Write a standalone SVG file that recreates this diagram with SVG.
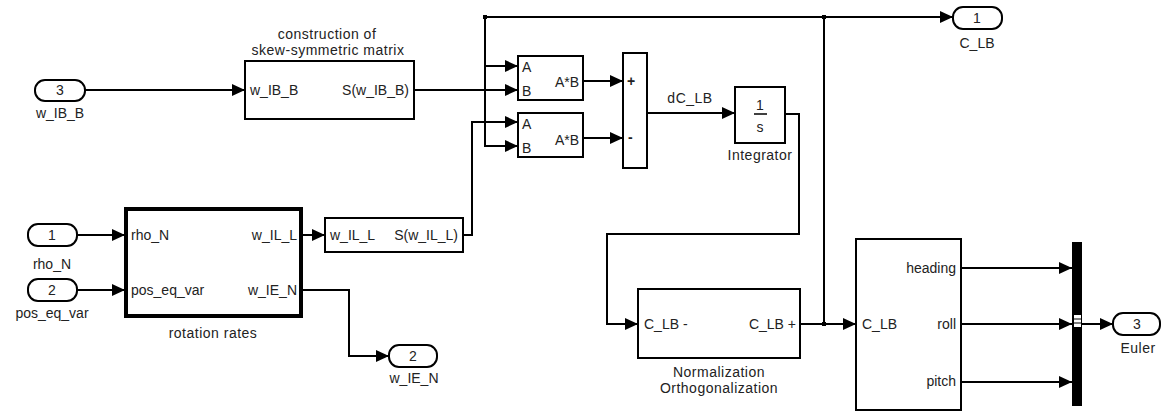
<svg xmlns="http://www.w3.org/2000/svg" width="1162" height="412" viewBox="0 0 1162 412">
<style>
text{font-family:"Liberation Sans",Arial,sans-serif;font-size:14px;fill:#222}
.t{letter-spacing:0.5px}
.m{text-anchor:middle}
.e{text-anchor:end}
.blk{fill:#fff;stroke:#000;stroke-width:2}
.port{fill:#fff;stroke:#000;stroke-width:2}
.w{fill:none;stroke:#000;stroke-width:2}
</style>
<defs>
<marker id="ar" markerUnits="userSpaceOnUse" markerWidth="13" markerHeight="12" refX="13" refY="6" orient="auto">
<path d="M0,0 L13,6 L0,12 z" fill="#000"/>
</marker>
</defs>
<rect width="1162" height="412" fill="#fff"/>

<g id="connectors">
<path class="w" d="M85 90 H245" marker-end="url(#ar)"/>
<path class="w" d="M414 90 H518" marker-end="url(#ar)"/>
<path class="w" d="M824 17 H485 V146 H518" marker-end="url(#ar)"/>
<path class="w" d="M485 66 H518" marker-end="url(#ar)"/>
<path class="w" d="M824 324 V17 H953" marker-end="url(#ar)"/>
<path class="w" d="M800 324 H856" marker-end="url(#ar)"/>
<path class="w" d="M463 235 H472 V122 H518" marker-end="url(#ar)"/>
<path class="w" d="M583 81 H623" marker-end="url(#ar)"/>
<path class="w" d="M583 138 H623" marker-end="url(#ar)"/>
<path class="w" d="M647 113 H735" marker-end="url(#ar)"/>
<path class="w" d="M785 114 H799 V234 H607 V324 H638" marker-end="url(#ar)"/>
<path class="w" d="M302 235 H325" marker-end="url(#ar)"/>
<path class="w" d="M302 290 H349 V356 H389" marker-end="url(#ar)"/>
<path class="w" d="M77 235 H125" marker-end="url(#ar)"/>
<path class="w" d="M77 290 H125" marker-end="url(#ar)"/>
<path class="w" d="M961 268 H1072" marker-end="url(#ar)"/>
<path class="w" d="M961 324 H1072" marker-end="url(#ar)"/>
<path class="w" d="M961 382 H1072" marker-end="url(#ar)"/>
<path class="w" d="M1082 324 H1113" marker-end="url(#ar)"/>
<rect x="483" y="15" width="4" height="4" fill="#000"/>
<rect x="822" y="15" width="4" height="4" fill="#000"/>
<rect x="822" y="322" width="4" height="4" fill="#000"/>
</g>

<g id="in_w_IB_B">
<rect class="port" x="35" y="80" width="50" height="21" rx="10"/>
<text class="m" x="60" y="95">3</text>
<text class="m" x="60" y="118">w_IB_B</text>
</g>

<g id="in_rho_N">
<rect class="port" x="28" y="224" width="49" height="22" rx="10"/>
<text class="m" x="52" y="240">1</text>
<text class="m" x="52" y="269">rho_N</text>
</g>

<g id="in_pos_eq_var">
<rect class="port" x="28" y="279" width="49" height="22" rx="10"/>
<text class="m" x="52" y="295">2</text>
<text class="m" x="52" y="318">pos_eq_var</text>
</g>

<g id="skew1">
<rect class="blk" x="245" y="61" width="169" height="58"/>
<text x="250" y="95">w_IB_B</text>
<text class="e" x="409" y="95">S(w_IB_B)</text>
<text class="m t" x="327" y="39">construction of</text>
<text class="m t" x="328" y="55">skew-symmetric matrix</text>
</g>

<g id="rotation_rates">
<rect x="126" y="209" width="175" height="107" fill="#fff" stroke="#000" stroke-width="4"/>
<text x="131" y="240">rho_N</text>
<text x="131" y="295">pos_eq_var</text>
<text class="e" x="297" y="240">w_IL_L</text>
<text class="e" x="297" y="295">w_IE_N</text>
<text class="m t" x="213" y="338">rotation rates</text>
</g>

<g id="skew2">
<rect class="blk" x="325" y="218" width="138" height="34"/>
<text x="330" y="240">w_IL_L</text>
<text class="e" x="458" y="240">S(w_IL_L)</text>
</g>

<g id="product1">
<rect class="blk" x="518" y="56" width="65" height="44"/>
<text x="522" y="72">A</text>
<text x="522" y="96">B</text>
<text class="e" x="579" y="87">A*B</text>
</g>

<g id="product2">
<rect class="blk" x="518" y="113" width="65" height="44"/>
<text x="522" y="129">A</text>
<text x="522" y="153">B</text>
<text class="e" x="579" y="145">A*B</text>
</g>

<g id="sum">
<rect class="blk" x="623" y="53" width="24" height="115"/>
<text x="627" y="86" style="font-weight:bold">+</text>
<text x="628" y="142" style="font-weight:bold">-</text>
</g>

<text class="m t" x="690" y="103">dC_LB</text>

<g id="integrator">
<rect class="blk" x="735" y="87" width="50" height="56"/>
<text class="m" x="760" y="110">1</text>
<line x1="754" y1="114" x2="767" y2="114" stroke="#000" stroke-width="1.5"/>
<text class="m" x="760" y="132">s</text>
<text class="m t" x="760" y="160">Integrator</text>
</g>

<g id="out_C_LB">
<rect class="port" x="953" y="7" width="49" height="22" rx="10"/>
<text class="m" x="977" y="23">1</text>
<text class="m" x="977" y="48">C_LB</text>
</g>

<g id="out_w_IE_N">
<rect class="port" x="389" y="345" width="48" height="22" rx="10"/>
<text class="m" x="413" y="361">2</text>
<text class="m" x="414" y="383">w_IE_N</text>
</g>

<g id="normalization">
<rect class="blk" x="638" y="289" width="162" height="69"/>
<text x="644" y="329">C_LB -</text>
<text class="e" x="796" y="329">C_LB +</text>
<text class="m t" x="719" y="377">Normalization</text>
<text class="m t" x="719" y="393">Orthogonalization</text>
</g>

<g id="euler_block">
<rect class="blk" x="856" y="239" width="105" height="171"/>
<text x="862" y="329">C_LB</text>
<text class="e" x="956" y="273">heading</text>
<text class="e" x="956" y="329">roll</text>
<text class="e" x="956" y="386">pitch</text>
</g>

<g id="mux">
<rect x="1072" y="242" width="10" height="164" fill="#000"/>
<rect x="1074" y="315" width="7" height="12" fill="#fff"/>
<line x1="1074" y1="319" x2="1081" y2="319" stroke="#000" stroke-width="1"/>
<line x1="1074" y1="323" x2="1081" y2="323" stroke="#000" stroke-width="1"/>
</g>

<g id="out_Euler">
<rect class="port" x="1113" y="313" width="47" height="22" rx="10"/>
<text class="m" x="1137" y="329">3</text>
<text class="m t" x="1138" y="353">Euler</text>
</g>
</svg>
